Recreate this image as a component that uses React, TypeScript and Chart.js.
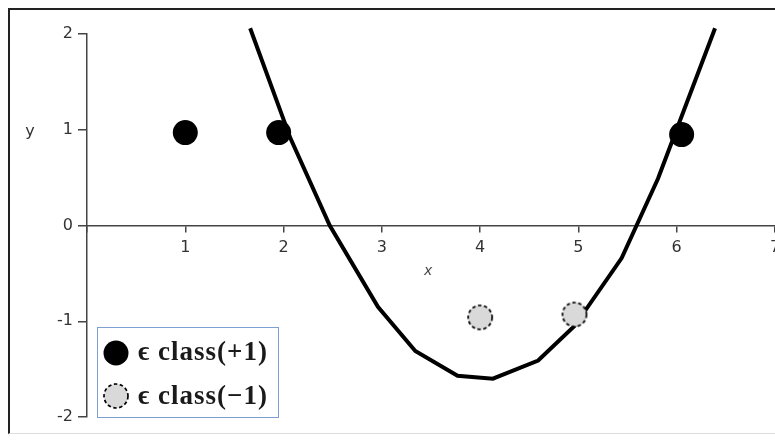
import React, { useEffect, useRef } from "react";
import { Chart, registerables } from "chart.js";

Chart.register(...registerables);

// Axis ranges
const X_MIN = 0;
const X_MAX = 7;
const Y_MIN = -2;
const Y_MAX = 2;

// Training points of class +1
const classPlusX = [1.0, 1.95, 6.05];
const classPlusY = [0.97, 0.97, 0.95];

// Training points of class -1
const classMinusX = [4.0, 4.96];
const classMinusY = [-0.96, -0.93];

// Sampled decision boundary
const boundaryX = [1.66, 2.07, 2.47, 2.96, 3.34, 3.77, 4.13, 4.59, 4.96, 5.44, 5.81, 6.39];
const boundaryY = [2.06, 0.91, 0.0, -0.85, -1.31, -1.57, -1.6, -1.41, -1.05, -0.34, 0.49, 2.06];

// Legend entries
const legendLabels = ["\u03F5 class(+1)", "\u03F5 class(\u22121)"];

const POINT_RADIUS = 12.5;
const MINUS_FILL = "#d9d9d9";
const Y_AXIS_WIDTH = 40;

const toXY = (xs: number[], ys: number[]) => xs.map((x, i) => ({ x, y: ys[i] }));

function drawDashedDot(ctx: CanvasRenderingContext2D, cx: number, cy: number, r: number) {
  ctx.save();
  ctx.beginPath();
  ctx.arc(cx, cy, r, 0, Math.PI * 2);
  ctx.fillStyle = MINUS_FILL;
  ctx.fill();
  ctx.setLineDash([3.5, 2.5]);
  ctx.lineWidth = 1.7;
  ctx.strokeStyle = "#000";
  ctx.stroke();
  ctx.restore();
}

function makeDashedMarker(): HTMLCanvasElement {
  const size = 28;
  const c = document.createElement("canvas");
  c.width = size;
  c.height = size;
  const g = c.getContext("2d")!;
  drawDashedDot(g, size / 2, size / 2, POINT_RADIUS - 0.5);
  return c;
}

// Axis titles and the boxed legend in the lower-left corner
const overlayPlugin = {
  id: "overlay",
  afterDraw(chart: any) {
    const { ctx, chartArea, scales } = chart;
    const xs = scales.x;
    const ys = scales.y;
    ctx.save();

    ctx.fillStyle = "#333";
    ctx.font = "16px 'DejaVu Sans'";
    ctx.textAlign = "center";
    ctx.textBaseline = "middle";
    ctx.fillText("y", xs.getPixelForValue(0) - 57, ys.getPixelForValue(1) + 2);

    ctx.font = "italic 14px 'DejaVu Sans'";
    ctx.fillStyle = "#444";
    ctx.fillText("x", xs.getPixelForValue(3.47), ys.getPixelForValue(-0.48));

    // legend box
    const L = Math.round(chartArea.left) + 10;
    const B = Math.round(chartArea.bottom);
    const W = 181;
    const H = 90;
    ctx.fillStyle = "#fff";
    ctx.fillRect(L, B - H, W, H);
    ctx.strokeStyle = "#7f9fd2";
    ctx.lineWidth = 1;
    ctx.strokeRect(L + 0.5, B - H + 0.5, W, H);

    const row1 = B - H + 26;
    const row2 = B - H + 69;
    ctx.beginPath();
    ctx.arc(L + 19, row1, POINT_RADIUS, 0, Math.PI * 2);
    ctx.fillStyle = "#000";
    ctx.fill();
    drawDashedDot(ctx, L + 19, row2, POINT_RADIUS - 0.5);

    ctx.fillStyle = "#1a1a1a";
    ctx.font = "bold 27px 'Liberation Serif'";
    ctx.textAlign = "left";
    ctx.textBaseline = "alphabetic";
    (ctx as any).letterSpacing = "1px";
    ctx.fillText(legendLabels[0], L + 41, row1 + 7);
    ctx.fillText(legendLabels[1], L + 41, row2 + 8);

    ctx.restore();
  },
};

export default function App() {
  const canvasRef = useRef<HTMLCanvasElement | null>(null);

  useEffect(() => {
    if (!canvasRef.current) return;
    const marker = makeDashedMarker();
    const tickFont = { family: "'DejaVu Sans'", size: 16 };

    const chart = new Chart(canvasRef.current, {
      type: "scatter",
      data: {
        datasets: [
          {
            label: legendLabels[0],
            data: toXY(classPlusX, classPlusY),
            pointRadius: POINT_RADIUS,
            pointHoverRadius: POINT_RADIUS,
            backgroundColor: "#000",
            borderColor: "#000",
            borderWidth: 0,
            order: 0,
          },
          {
            label: legendLabels[1],
            data: toXY(classMinusX, classMinusY),
            pointStyle: marker,
            pointRadius: POINT_RADIUS,
            order: 0,
          },
          {
            type: "line",
            label: "boundary",
            data: toXY(boundaryX, boundaryY),
            showLine: true,
            pointRadius: 0,
            borderColor: "#000",
            borderWidth: 4,
            tension: 0,
            fill: false,
            clip: false,
            order: 1,
          } as any,
        ],
      },
      options: {
        responsive: false,
        animation: false,
        devicePixelRatio: 1,
        layout: { padding: { left: 77 - Y_AXIS_WIDTH, top: 24, right: 35, bottom: 16 } },
        plugins: {
          legend: { display: false },
          tooltip: { enabled: false },
        },
        scales: {
          x: {
            type: "linear",
            position: { y: 0 } as any,
            min: X_MIN,
            max: X_MAX,
            ticks: {
              stepSize: 1,
              padding: 7,
              color: "#333",
              font: tickFont,
              maxRotation: 0,
              autoSkip: false,
              callback: (v: any) => (Number(v) === 0 ? "" : String(v)),
            },
            grid: { drawOnChartArea: false, tickLength: 6, color: "#444", lineWidth: 1.5 },
            border: { color: "#444", width: 1.5 },
          },
          y: {
            type: "linear",
            position: "left",
            min: Y_MIN,
            max: Y_MAX,
            afterFit: (scale: any) => {
              scale.width = Y_AXIS_WIDTH;
            },
            ticks: {
              stepSize: 1,
              padding: 5,
              color: "#333",
              font: tickFont,
              autoSkip: false,
            },
            grid: { drawOnChartArea: false, tickLength: 9, color: "#444", lineWidth: 1.5 },
            border: { color: "#444", width: 1.5 },
          },
        },
      },
      plugins: [overlayPlugin],
    });

    return () => chart.destroy();
  }, []);

  return (
    <>
      <style>{"body { margin: 8px 0 0 8px; }"}</style>
      <div
        style={{
          position: "relative",
          width: 765,
          height: 423,
          borderTop: "2px solid #222",
          borderLeft: "2px solid #222",
          borderBottom: "1px solid #ddd",
          overflow: "hidden",
          background: "#fff",
        }}
      >
        <canvas
          ref={canvasRef}
          width={800}
          height={423}
          style={{ display: "block", position: "absolute", left: 0, top: 0 }}
        />
      </div>
    </>
  );
}
